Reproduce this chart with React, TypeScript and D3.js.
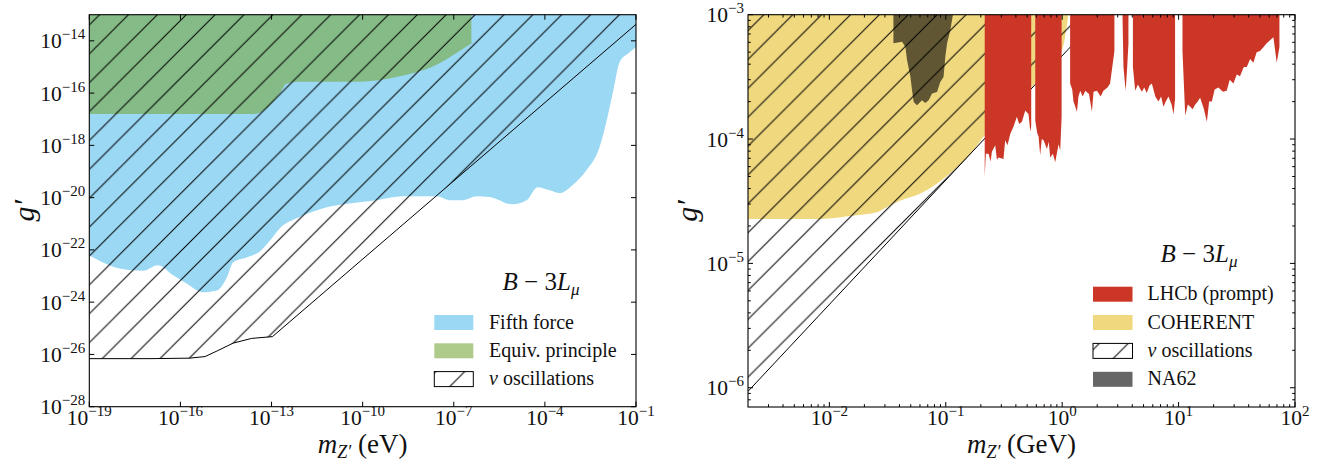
import React from "react";
import * as d3 from "d3";

type Pt = [number, number];

// ---------------- Left panel (m in eV) ----------------
const leftXTicks = [1e-19, 1e-16, 1e-13, 1e-10, 1e-7, 1e-4, 1e-1];
const leftXTickExps = ["−19", "−16", "−13", "−10", "−7", "−4", "−1"];
const leftYTicks = [1e-28, 1e-26, 1e-24, 1e-22, 1e-20, 1e-18, 1e-16, 1e-14];
const leftYTickExps = ["−28", "−26", "−24", "−22", "−20", "−18", "−16", "−14"];

const fifthForceLower: Pt[] = [
  [1e-19, 6.2e-23], [2.8e-19, 3.3e-23], [1.0e-18, 1.95e-23], [5.9e-18, 1.6e-23],
  [1.8e-17, 2.6e-23], [5.8e-17, 1.07e-23], [1.6e-16, 5.2e-24], [5.5e-16, 2.4e-24],
  [1.6e-15, 2.8e-24], [3.4e-15, 8.9e-24], [5.4e-15, 3.3e-23], [1.55e-14, 5.2e-23],
  [4.2e-14, 8.9e-23], [8.9e-14, 2.3e-22], [1.9e-13, 6.8e-22], [8.5e-13, 1.8e-21],
  [6.6e-12, 4.3e-21], [3.8e-11, 6.0e-21], [2.9e-10, 7.9e-21], [2.1e-9, 1.12e-20],
  [2.75e-8, 1.12e-20], [7.4e-8, 7.9e-21], [1.95e-7, 7.9e-21], [5.75e-7, 1.12e-20],
  [1.5e-6, 1.05e-20], [3.2e-6, 7.9e-21], [5.5e-6, 6.0e-21], [8.7e-6, 5.6e-21],
  [2.5e-5, 7.9e-21], [5.75e-5, 2.5e-20], [1.45e-4, 1.9e-20], [3.1e-4, 1.5e-20],
  [8.1e-4, 3.0e-20], [2.3e-3, 1.1e-19], [6.3e-3, 8.5e-19], [1.15e-2, 1.2e-17],
  [1.8e-2, 1.3e-16], [2.9e-2, 1.55e-15], [5.75e-2, 3.4e-15], [1e-1, 5.75e-15],
];

const equivPrincipleLower: Pt[] = [
  [1e-19, 1.58e-17], [2.4e-14, 1.58e-17], [6.9e-14, 2.6e-17], [1.86e-13, 9.8e-17],
  [3.1e-13, 2.3e-16], [8.5e-13, 2.7e-16], [7.9e-11, 2.7e-16], [1.4e-9, 4.2e-16],
  [2.5e-8, 1.17e-15], [1.7e-7, 4.4e-15], [3.8e-7, 7.9e-15],
];

const nuOscLeftLower: Pt[] = [
  [1e-19, 6.9e-27], [1.0e-17, 6.9e-27], [2.0e-16, 7.2e-27], [6.5e-16, 8.3e-27],
  [1.7e-15, 1.4e-26], [5.4e-15, 2.7e-26], [2.2e-14, 4.1e-26], [1.07e-13, 4.8e-26],
  [1e-1, 4.27e-14],
];

// ---------------- Right panel (m in GeV) ----------------
const rightXTicks = [1e-2, 1e-1, 1, 10, 100];
const rightXTickExps = ["−2", "−1", "0", "1", "2"];
const rightYTicks = [1e-6, 1e-5, 1e-4, 1e-3];
const rightYTickExps = ["−6", "−5", "−4", "−3"];

const coherentLower: Pt[] = [
  [0.002, 2.28e-5], [8.4e-3, 2.28e-5], [1.62e-2, 2.43e-5], [2.57e-2, 2.58e-5],
  [3.11e-2, 2.83e-5], [4.07e-2, 3.2e-5], [6.0e-2, 3.63e-5], [0.117, 5.6e-5],
  [0.163, 7.6e-5], [0.21, 1.04e-4], [0.294, 1.47e-4], [0.564, 2.7e-4],
  [1.0, 5.2e-4], [1.13, 1e-3],
];

const nuOscRightLower: Pt[] = [
  [0.002, 9.35e-7], [2.14, 1e-3],
];

const na62Outline: Pt[] = [
  [0.0355, 1e-3], [0.0355, 5.9e-4], [0.0421, 6.05e-4], [0.045, 5.5e-4],
  [0.0465, 4.3e-4], [0.0497, 3.16e-4], [0.0513, 2.47e-4], [0.053, 1.99e-4],
  [0.0566, 1.87e-4], [0.0625, 2.05e-4], [0.0667, 1.95e-4], [0.0713, 2.05e-4],
  [0.0762, 2.32e-4], [0.0841, 2.39e-4], [0.0897, 2.88e-4], [0.0957, 3.16e-4],
  [0.0991, 4.6e-4], [0.1026, 5.9e-4], [0.1094, 7.5e-4], [0.1132, 9.1e-4],
  [0.1153, 1e-3],
];

const lhcbSeg1: Pt[] = [
  [0.216, 5.0e-5], [0.221, 7.6e-5], [0.233, 7.6e-5], [0.243, 6.6e-5], [0.249, 7.9e-5],
  [0.266, 8.9e-5], [0.275, 6.8e-5], [0.284, 7.1e-5], [0.313, 6.9e-5], [0.324, 9.8e-5],
  [0.339, 8.9e-5], [0.358, 1.1e-4], [0.382, 1.26e-4], [0.408, 1.51e-4], [0.427, 1.32e-4],
  [0.451, 1.38e-4], [0.482, 1.7e-4], [0.514, 1.58e-4], [0.532, 1.15e-4], [0.542, 1.26e-4],
];
const lhcbSeg2: Pt[] = [
  [0.587, 1.41e-4], [0.61, 1.12e-4], [0.627, 1.05e-4], [0.647, 7.4e-5], [0.668, 1.0e-4],
  [0.692, 9.8e-5], [0.74, 8.3e-5], [0.767, 9.5e-5], [0.789, 7.1e-5], [0.832, 7.6e-5],
  [0.871, 6.5e-5], [0.931, 9.1e-5], [0.962, 8.1e-5], [0.989, 1.51e-4],
];
const lhcbSeg3: Pt[] = [
  [1.17, 2.8e-4], [1.22, 2.5e-4], [1.25, 2.0e-4], [1.34, 1.66e-4], [1.38, 2.2e-4],
  [1.43, 2.45e-4], [1.5, 2.2e-4], [1.58, 2.45e-4], [1.7, 2.3e-4], [1.8, 1.66e-4],
  [1.86, 2.4e-4], [1.99, 2.45e-4], [2.14, 2.2e-4], [2.26, 2.45e-4], [2.45, 2.6e-4],
  [2.58, 2.8e-4], [2.81, 5.1e-4],
];
const lhcbSeg4: Pt[] = [
  [3.3, 9.5e-4], [3.36, 3.8e-4], [3.51, 2.45e-4], [3.6, 3.5e-4], [3.71, 5.9e-4],
];
const lhcbSeg5: Pt[] = [
  [4.05, 3.8e-4], [4.24, 2.45e-4], [4.47, 2.75e-4], [4.83, 2.4e-4], [5.07, 2.6e-4],
  [5.33, 2.35e-4], [5.62, 2.7e-4], [5.89, 2.8e-4], [6.31, 2.2e-4], [6.71, 2.0e-4],
  [7.08, 2.2e-4], [7.41, 1.82e-4], [7.76, 2.0e-4], [8.18, 2.2e-4], [8.71, 1.9e-4],
  [9.04, 1.58e-4], [9.33, 2.1e-4],
];
const lhcbSeg6: Pt[] = [
  [10.8, 5.1e-4], [11.4, 1.55e-4], [12.0, 1.9e-4], [12.6, 1.82e-4], [13.2, 1.74e-4],
  [13.9, 1.9e-4], [14.6, 2.0e-4], [15.3, 2.15e-4], [16.4, 1.78e-4], [17.5, 1.38e-4],
  [18.3, 2.0e-4], [19.3, 2.0e-4], [20.4, 2.5e-4], [22.0, 2.6e-4], [24.0, 2.4e-4],
  [25.9, 2.45e-4], [27.5, 3.0e-4], [29.6, 2.8e-4], [31.6, 3.3e-4], [33.7, 3.2e-4],
  [36.3, 3.8e-4], [38.5, 3.8e-4], [41.2, 4.4e-4], [43.9, 4.1e-4], [46.8, 5.0e-4],
  [50.1, 5.1e-4], [53.7, 5.5e-4], [57.1, 5.9e-4], [61.7, 6.3e-4], [65.2, 6.6e-4],
  [69.7, 4.1e-4], [73.5, 5.5e-4],
];
const lhcbSegments = [lhcbSeg1, lhcbSeg2, lhcbSeg3, lhcbSeg4, lhcbSeg5, lhcbSeg6];

const leftLegend = ["Fifth force", "Equiv. principle", "oscillations"];
const rightLegend = ["LHCb (prompt)", "COHERENT", "oscillations", "NA62"];

// ---------------- Styling / layout ----------------
const W = 1320;
const H = 463;
const LP = { x0: 89.3, x1: 636, y0: 14.7, y1: 406.7 };
const RP = { x0: 748, x1: 1295, y0: 14.7, y1: 407 };
const FONT = "'Liberation Serif', 'Times New Roman', serif";
const C_BLUE = "#9bd8f4";
const C_GREEN = "rgb(117,166,55)";
const GREEN_OP = 0.58;
const C_YELLOW = "#f0d87f";
const C_RED = "#cb3627";
const HATCH = 28.88;
const HATCH_PHASE = 27.66;
const TXT = "#111";

function Pow({ x, y, exp, anchor }: { x: number; y: number; exp: string; anchor: string }) {
  return (
    <text x={x} y={y} textAnchor={anchor} fontFamily={FONT} fontSize={21.5} fill={TXT}>
      10
      <tspan dy={-9} fontSize={15}>{exp}</tspan>
    </text>
  );
}

function Frame({ p }: { p: { x0: number; x1: number; y0: number; y1: number } }) {
  return (
    <rect x={p.x0} y={p.y0} width={p.x1 - p.x0} height={p.y1 - p.y0} fill="none" stroke="#000" strokeWidth={1.1} />
  );
}

export default function App() {
  const lx = d3.scaleLog().domain([1e-19, 1e-1]).range([LP.x0, LP.x1]);
  const ly = d3.scaleLog().domain([1e-28, 1e-13]).range([LP.y1, LP.y0]);
  const rx = d3.scaleLog().domain([0.002, 100]).range([RP.x0, RP.x1]);
  const ry = d3.scaleLog().domain([7e-7, 1e-3]).range([RP.y1, RP.y0]);

  const areaL = d3.area<Pt>().x((d) => lx(d[0])).y0(LP.y0).y1((d) => ly(d[1]));
  const areaLSmooth = d3.area<Pt>().x((d) => lx(d[0])).y0(LP.y0).y1((d) => ly(d[1])).curve(d3.curveMonotoneX);
  const lineL = d3.line<Pt>().x((d) => lx(d[0])).y((d) => ly(d[1]));
  const areaR = d3.area<Pt>().x((d) => rx(d[0])).y0(RP.y0).y1((d) => ry(d[1]));
  const areaRSmooth = d3.area<Pt>().x((d) => rx(d[0])).y0(RP.y0).y1((d) => ry(d[1])).curve(d3.curveMonotoneX);
  const lineR = d3.line<Pt>().x((d) => rx(d[0])).y((d) => ry(d[1]));

  const rxMinor: number[] = [];
  for (let k = -3; k <= 1; k++) for (let m = 2; m <= 9; m++) {
    const v = m * Math.pow(10, k);
    if (v > 0.002 * 1.001 && v < 100) rxMinor.push(v);
  }
  const ryMinor: number[] = [];
  for (let k = -7; k <= -4; k++) for (let m = 2; m <= 9; m++) {
    const v = m * Math.pow(10, k);
    if (v > 7e-7 * 1.001 && v < 1e-3) ryMinor.push(v);
  }

  const MAJ = 5;
  const MIN = 2.8;

  const legendItemL = [315, 343.3, 371.6];
  const legendItemR = [286.7, 315, 343.4, 371.8];

  return (
    <div style={{ position: "absolute", left: 0, top: 0, width: W, height: H, background: "#fff" }}>
      <svg width={W} height={H} viewBox={`0 0 ${W} ${H}`} style={{ display: "block" }}>
        <defs>
          <pattern id="hatch" patternUnits="userSpaceOnUse" x={HATCH_PHASE} y={0} width={HATCH} height={HATCH}>
            <path
              d={`M0,${HATCH} L${HATCH},0 M${-HATCH / 2},${HATCH / 2} L${HATCH / 2},${-HATCH / 2} M${HATCH / 2},${HATCH * 1.5} L${HATCH * 1.5},${HATCH / 2}`}
              stroke="#000"
              strokeWidth={1}
              fill="none"
            />
          </pattern>
          <clipPath id="clipL">
            <rect x={LP.x0} y={LP.y0} width={LP.x1 - LP.x0} height={LP.y1 - LP.y0} />
          </clipPath>
          <clipPath id="clipR">
            <rect x={RP.x0} y={RP.y0} width={RP.x1 - RP.x0} height={RP.y1 - RP.y0} />
          </clipPath>
        </defs>

        {/* ---------- Left panel ---------- */}
        <g clipPath="url(#clipL)">
          <path d={areaLSmooth(fifthForceLower) || ""} fill={C_BLUE} />
          <path d={areaLSmooth(equivPrincipleLower) || ""} fill={C_GREEN} fillOpacity={GREEN_OP} />
          <path d={areaL(nuOscLeftLower) || ""} fill="url(#hatch)" />
          <path d={lineL(nuOscLeftLower) || ""} fill="none" stroke="#000" strokeWidth={1} />
        </g>
        <Frame p={LP} />
        {leftXTicks.map((t, i) => (
          <g key={"lxt" + i}>
            <line x1={lx(t)} x2={lx(t)} y1={LP.y1} y2={LP.y1 - MAJ} stroke="#000" />
            <line x1={lx(t)} x2={lx(t)} y1={LP.y0} y2={LP.y0 + MAJ} stroke="#000" />
            <Pow x={lx(t)} y={425} exp={leftXTickExps[i]} anchor="middle" />
          </g>
        ))}
        {leftYTicks.map((t, i) => (
          <g key={"lyt" + i}>
            <line x1={LP.x0} x2={LP.x0 + MAJ} y1={ly(t)} y2={ly(t)} stroke="#000" />
            <line x1={LP.x1} x2={LP.x1 - MAJ} y1={ly(t)} y2={ly(t)} stroke="#000" />
            <Pow x={LP.x0 - 4} y={ly(t) + 7.5} exp={leftYTickExps[i]} anchor="end" />
          </g>
        ))}
        <text x={(LP.x0 + LP.x1) / 2} y={453} textAnchor="middle" fontFamily={FONT} fontSize={27} fill={TXT}>
          <tspan fontStyle="italic">m</tspan>
          <tspan fontStyle="italic" fontSize={18} dy={5}>Z′</tspan>
          <tspan dy={-5}> (eV)</tspan>
        </text>
        <text transform={`translate(34,${(LP.y0 + LP.y1) / 2}) rotate(-90)`} textAnchor="middle" fontFamily={FONT} fontSize={30} fontStyle="italic" fill={TXT}>
          g′
        </text>
        <text x={541} y={290} textAnchor="middle" fontFamily={FONT} fontSize={25} fill={TXT}>
          <tspan fontStyle="italic">B</tspan>
          <tspan> − 3</tspan>
          <tspan fontStyle="italic">L</tspan>
          <tspan fontStyle="italic" fontSize={17} dy={5}>μ</tspan>
        </text>
        <rect x={434.3} y={legendItemL[0]} width={39} height={15} fill={C_BLUE} />
        <rect x={434.3} y={legendItemL[1]} width={39} height={15} fill={C_GREEN} fillOpacity={GREEN_OP} />
        <rect x={434.3} y={legendItemL[2]} width={39} height={15} fill="url(#hatch)" stroke="#000" strokeWidth={1} />
        {leftLegend.map((s, i) => (
          <text key={"ll" + i} x={489} y={legendItemL[i] + 13.5} fontFamily={FONT} fontSize={20} fill={TXT}>
            {i === 2 ? <tspan fontStyle="italic">ν </tspan> : null}
            {s}
          </text>
        ))}

        {/* ---------- Right panel ---------- */}
        <g clipPath="url(#clipR)">
          <path d={areaRSmooth(coherentLower) || ""} fill={C_YELLOW} />
          <path d={(lineR(na62Outline) || "") + "Z"} fill="#000" fillOpacity={0.6} />
          <path d={areaR(nuOscRightLower) || ""} fill="url(#hatch)" />
          <path d={lineR(nuOscRightLower) || ""} fill="none" stroke="#000" strokeWidth={1} />
          {lhcbSegments.map((seg, i) => (
            <path key={"lhcb" + i} d={areaR(seg) || ""} fill={C_RED} />
          ))}
        </g>
        <Frame p={RP} />
        {rightXTicks.map((t, i) => (
          <g key={"rxt" + i}>
            <line x1={rx(t)} x2={rx(t)} y1={RP.y1} y2={RP.y1 - MAJ} stroke="#000" />
            <line x1={rx(t)} x2={rx(t)} y1={RP.y0} y2={RP.y0 + MAJ} stroke="#000" />
            <Pow x={rx(t)} y={425} exp={rightXTickExps[i]} anchor="middle" />
          </g>
        ))}
        {rxMinor.map((t, i) => (
          <g key={"rxm" + i}>
            <line x1={rx(t)} x2={rx(t)} y1={RP.y1} y2={RP.y1 - MIN} stroke="#000" />
            <line x1={rx(t)} x2={rx(t)} y1={RP.y0} y2={RP.y0 + MIN} stroke="#000" />
          </g>
        ))}
        {rightYTicks.map((t, i) => (
          <g key={"ryt" + i}>
            <line x1={RP.x0} x2={RP.x0 + MAJ} y1={ry(t)} y2={ry(t)} stroke="#000" />
            <line x1={RP.x1} x2={RP.x1 - MAJ} y1={ry(t)} y2={ry(t)} stroke="#000" />
            <Pow x={RP.x0 - 4} y={ry(t) + 7.5} exp={rightYTickExps[i]} anchor="end" />
          </g>
        ))}
        {ryMinor.map((t, i) => (
          <g key={"rym" + i}>
            <line x1={RP.x0} x2={RP.x0 + MIN} y1={ry(t)} y2={ry(t)} stroke="#000" />
            <line x1={RP.x1} x2={RP.x1 - MIN} y1={ry(t)} y2={ry(t)} stroke="#000" />
          </g>
        ))}
        <text x={(RP.x0 + RP.x1) / 2} y={453} textAnchor="middle" fontFamily={FONT} fontSize={27} fill={TXT}>
          <tspan fontStyle="italic">m</tspan>
          <tspan fontStyle="italic" fontSize={18} dy={5}>Z′</tspan>
          <tspan dy={-5}> (GeV)</tspan>
        </text>
        <text transform={`translate(697,${(RP.y0 + RP.y1) / 2}) rotate(-90)`} textAnchor="middle" fontFamily={FONT} fontSize={30} fontStyle="italic" fill={TXT}>
          g′
        </text>
        <text x={1199} y={262} textAnchor="middle" fontFamily={FONT} fontSize={25} fill={TXT}>
          <tspan fontStyle="italic">B</tspan>
          <tspan> − 3</tspan>
          <tspan fontStyle="italic">L</tspan>
          <tspan fontStyle="italic" fontSize={17} dy={5}>μ</tspan>
        </text>
        <rect x={1093} y={legendItemR[0]} width={39.5} height={15} fill={C_RED} />
        <rect x={1093} y={legendItemR[1]} width={39.5} height={15} fill={C_YELLOW} />
        <rect x={1093} y={legendItemR[2]} width={39.5} height={15} fill="url(#hatch)" stroke="#000" strokeWidth={1} />
        <rect x={1093} y={legendItemR[3]} width={39.5} height={15} fill="#000" fillOpacity={0.6} />
        {rightLegend.map((s, i) => (
          <text key={"rl" + i} x={1147.6} y={legendItemR[i] + 13.5} fontFamily={FONT} fontSize={20} fill={TXT}>
            {i === 2 ? <tspan fontStyle="italic">ν </tspan> : null}
            {s}
          </text>
        ))}
      </svg>
    </div>
  );
}
